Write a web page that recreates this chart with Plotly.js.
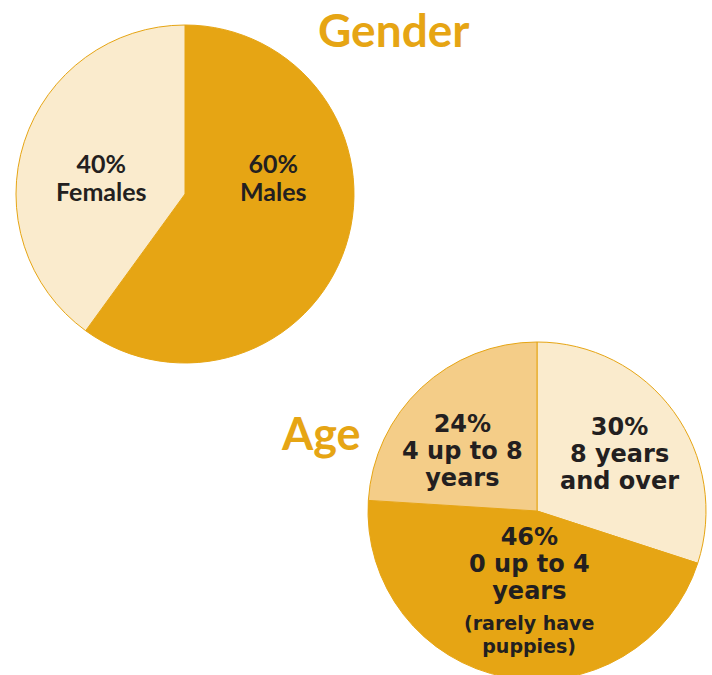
<!DOCTYPE html>
<html>
<head>
<meta charset="utf-8">
<script src="https://cdn.plot.ly/plotly-3.0.1.min.js"></script>
<style>
html,body{margin:0;padding:0;overflow:hidden;background:#fff;}
#chart{width:712px;height:690px;}
</style>
</head>
<body>
<div id="chart"></div>
<script>
// ---- data ----
var genderLabels = ['Males', 'Females'];
var genderValues = [60, 40];
var genderLines = [['60%', 'Males'], ['40%', 'Females']];

var ageLabels = ['8 years and over', '0 up to 4 years', '4 up to 8 years'];
var ageValues = [30, 46, 24];
var ageLines = [['30%', '8 years', 'and over'], ['46%', '0 up to 4', 'years'], ['24%', '4 up to 8', 'years']];
var ageNote = ['(rarely have', 'puppies)'];

var titles = ['Gender', 'Age'];

// ---- styles ----
var W = 712, H = 690;
var GOLD = '#E6A514', CREAM = '#FAEBCD', TAN = '#F4CD88', INK = '#231F20';
var FONT = 'Lato, "Open Sans", sans-serif';
var FONT_HEAVY = '"DejaVu Sans", Lato, sans-serif';

function px(x, y) { return {x: x / W, y: 1 - y / H}; }

var traces = [
  {
    type: 'pie', labels: genderLabels, values: genderValues, sort: false,
    direction: 'clockwise', rotation: 0, textinfo: 'none', hoverinfo: 'label+percent',
    marker: {colors: [GOLD, CREAM], line: {color: GOLD, width: 1}},
    domain: {x: [16 / W, 354 / W], y: [1 - 363 / H, 1 - 25 / H]},
    showlegend: false
  },
  {
    type: 'pie', labels: ageLabels, values: ageValues, sort: false,
    direction: 'clockwise', rotation: 0, textinfo: 'none', hoverinfo: 'label+percent',
    marker: {colors: [CREAM, GOLD, TAN], line: {color: GOLD, width: 1}},
    domain: {x: [368 / W, 706 / W], y: [1 - 680 / H, 1 - 342 / H]},
    showlegend: false
  }
];

var ann = [];
// one text block per label; line spacing = 1.3 * base size, glyph size set per span
function addBlock(lines, x, yFirst, spacing, glyph, color, family) {
  var base = spacing / 1.3;
  var yMid = yFirst + (lines.length - 1) * spacing / 2;
  var p = px(x, yMid);
  var txt = lines.map(function (t) { return '<span style="font-size:' + glyph + 'px">' + t + '</span>'; }).join('<br>');
  ann.push({text: txt, x: p.x, y: p.y, xref: 'paper', yref: 'paper', showarrow: false,
    xanchor: 'center', yanchor: 'middle', align: 'center',
    font: {family: family || FONT, size: base, weight: 700, color: color}});
}
// titles
addBlock([titles[0]], 393, 30, 46 * 1.3, 46, GOLD);
addBlock([titles[1]], 321, 433, 45 * 1.3, 45, GOLD);
// gender labels
var gPos = [[273, 163], [101, 163]];
genderLines.forEach(function (lines, i) { addBlock(lines, gPos[i][0], gPos[i][1], 28, 25, INK); });
// age labels
var aPos = [[619, 427], [529, 537], [462, 424]];
ageLines.forEach(function (lines, i) { addBlock(lines, aPos[i][0], aPos[i][1], 27, 24, INK, FONT_HEAVY); });
addBlock(ageNote, 529, 623, 22.5, 19, INK, FONT_HEAVY);

var layout = {
  width: W, height: H,
  margin: {l: 0, r: 0, t: 0, b: 0},
  paper_bgcolor: '#fff',
  showlegend: false,
  annotations: ann
};
Plotly.newPlot('chart', traces, layout, {displayModeBar: false, staticPlot: true});
</script>
</body>
</html>
